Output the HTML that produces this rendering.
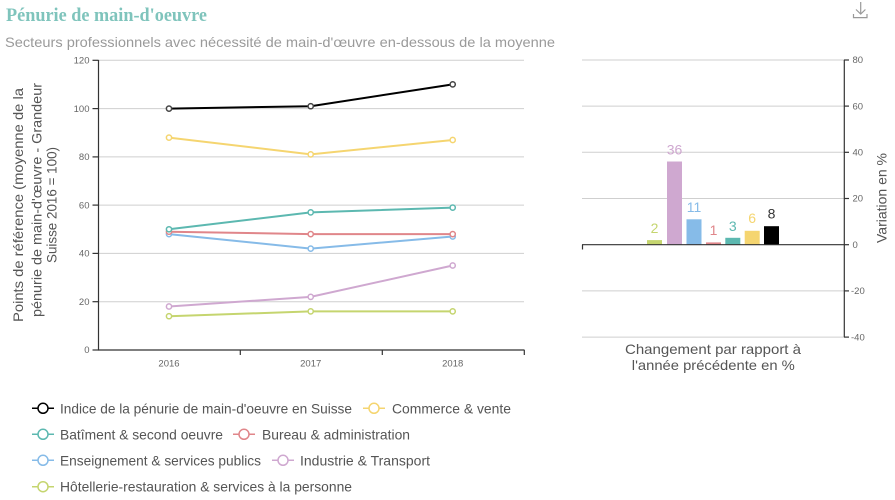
<!DOCTYPE html>
<html>
<head>
<meta charset="utf-8">
<style>
html,body{margin:0;padding:0;background:#fff;}
svg{display:block;}
text{font-family:"Liberation Sans",sans-serif;}
</style>
</head>
<body>
<svg width="895" height="500" viewBox="0 0 895 500" xmlns="http://www.w3.org/2000/svg">
<!-- Title -->
<text x="6" y="21" style="font-family:'Liberation Serif',serif;font-weight:bold;font-size:19px" fill="#7fc4bc" textLength="201" lengthAdjust="spacingAndGlyphs">Pénurie de main-d'oeuvre</text>
<text x="5" y="47" font-size="14" fill="#9a9a9a" textLength="550" lengthAdjust="spacingAndGlyphs">Secteurs professionnels avec nécessité de main-d'œuvre en-dessous de la moyenne</text>
<!-- download icon -->
<g stroke="#999" stroke-width="1.2" fill="none">
<line x1="860.7" y1="2" x2="860.7" y2="14"/>
<polyline points="856,9.5 860.7,14 865.4,9.5"/>
<polyline points="853.5,14 853.5,17.6 867,17.6 867,14"/>
</g>

<!-- LEFT CHART -->
<g stroke="#cfcfcf" stroke-width="1">
<line x1="98" y1="60.3" x2="524" y2="60.3"/>
<line x1="98" y1="108.6" x2="524" y2="108.6"/>
<line x1="98" y1="156.9" x2="524" y2="156.9"/>
<line x1="98" y1="205.1" x2="524" y2="205.1"/>
<line x1="98" y1="253.4" x2="524" y2="253.4"/>
<line x1="98" y1="301.7" x2="524" y2="301.7"/>
</g>
<g stroke="#333" stroke-width="1.2">
<line x1="98.5" y1="60" x2="98.5" y2="350"/>
<line x1="98" y1="350" x2="524.5" y2="350"/>
<line x1="92.5" y1="60.3" x2="98.5" y2="60.3"/>
<line x1="92.5" y1="108.6" x2="98.5" y2="108.6"/>
<line x1="92.5" y1="156.9" x2="98.5" y2="156.9"/>
<line x1="92.5" y1="205.1" x2="98.5" y2="205.1"/>
<line x1="92.5" y1="253.4" x2="98.5" y2="253.4"/>
<line x1="92.5" y1="301.7" x2="98.5" y2="301.7"/>
<line x1="92.5" y1="350" x2="98.5" y2="350"/>
<line x1="240.3" y1="350" x2="240.3" y2="355"/>
<line x1="382.3" y1="350" x2="382.3" y2="355"/>
<line x1="524.3" y1="350" x2="524.3" y2="355"/>
</g>
<g font-size="9.5" fill="#666" text-anchor="end">
<text x="89.5" y="63.5">120</text>
<text x="89.5" y="111.8">100</text>
<text x="89.5" y="160.1">80</text>
<text x="89.5" y="208.3">60</text>
<text x="89.5" y="256.6">40</text>
<text x="89.5" y="304.9">20</text>
<text x="89.5" y="353.2">0</text>
</g>
<g font-size="9.5" fill="#666" text-anchor="middle">
<text x="169" y="366.5">2016</text>
<text x="310.7" y="366.5">2017</text>
<text x="452.7" y="366.5">2018</text>
</g>
<g font-size="14" fill="#555" text-anchor="middle">
<text transform="translate(23,205) rotate(-90)" textLength="234" lengthAdjust="spacingAndGlyphs">Points de référence (moyenne de la</text>
<text transform="translate(41.5,200) rotate(-90)" textLength="234" lengthAdjust="spacingAndGlyphs">pénurie de main-d'œuvre - Grandeur</text>
<text transform="translate(56.5,205) rotate(-90)" textLength="116" lengthAdjust="spacingAndGlyphs">Suisse 2016 = 100)</text>
</g>

<!-- series lines -->
<g fill="none" stroke-width="2">
<polyline stroke="#c5d56f" points="169,316.2 310.7,311.4 452.7,311.4"/>
<polyline stroke="#cfa8d0" points="169,306.5 310.7,296.9 452.7,265.5"/>
<polyline stroke="#86bbe8" points="169,234.1 310.7,248.6 452.7,236.5"/>
<polyline stroke="#e0868a" points="169,231.7 310.7,234.1 452.7,234.1"/>
<polyline stroke="#5cb8b0" points="169,229.3 310.7,212.4 452.7,207.6"/>
<polyline stroke="#f5d570" points="169,137.6 310.7,154.4 452.7,140.0"/>
<polyline stroke="#000" points="169,108.6 310.7,106.2 452.7,84.4"/>
</g>
<g fill="#fff" stroke-width="1.5">
<g stroke="#c5d56f"><circle cx="169" cy="316.2" r="2.6"/><circle cx="310.7" cy="311.4" r="2.6"/><circle cx="452.7" cy="311.4" r="2.6"/></g>
<g stroke="#cfa8d0"><circle cx="169" cy="306.5" r="2.6"/><circle cx="310.7" cy="296.9" r="2.6"/><circle cx="452.7" cy="265.5" r="2.6"/></g>
<g stroke="#86bbe8"><circle cx="169" cy="234.1" r="2.6"/><circle cx="310.7" cy="248.6" r="2.6"/><circle cx="452.7" cy="236.5" r="2.6"/></g>
<g stroke="#e0868a"><circle cx="169" cy="231.7" r="2.6"/><circle cx="310.7" cy="234.1" r="2.6"/><circle cx="452.7" cy="234.1" r="2.6"/></g>
<g stroke="#5cb8b0"><circle cx="169" cy="229.3" r="2.6"/><circle cx="310.7" cy="212.4" r="2.6"/><circle cx="452.7" cy="207.6" r="2.6"/></g>
<g stroke="#f5d570"><circle cx="169" cy="137.6" r="2.6"/><circle cx="310.7" cy="154.4" r="2.6"/><circle cx="452.7" cy="140.0" r="2.6"/></g>
<g stroke="#444"><circle cx="169" cy="108.6" r="2.6"/><circle cx="310.7" cy="106.2" r="2.6"/><circle cx="452.7" cy="84.4" r="2.6"/></g>
</g>

<!-- RIGHT CHART -->
<g stroke="#cfcfcf" stroke-width="1">
<line x1="582" y1="60" x2="844" y2="60"/>
<line x1="582" y1="106.1" x2="844" y2="106.1"/>
<line x1="582" y1="152.3" x2="844" y2="152.3"/>
<line x1="582" y1="198.5" x2="844" y2="198.5"/>
<line x1="582" y1="290.9" x2="844" y2="290.9"/>
<line x1="582" y1="337.1" x2="844" y2="337.1"/>
</g>
<g>
<rect x="647" y="240.1" width="15" height="4.6" fill="#c5d56f"/>
<rect x="667" y="161.5" width="15" height="83.2" fill="#cfa8d0"/>
<rect x="686.5" y="219.3" width="15" height="25.4" fill="#86bbe8"/>
<rect x="706" y="242.4" width="15" height="2.3" fill="#e0868a"/>
<rect x="725.3" y="237.8" width="15" height="6.9" fill="#5cb8b0"/>
<rect x="744.7" y="230.8" width="15" height="13.9" fill="#f5d570"/>
<rect x="764" y="226.2" width="15" height="18.5" fill="#000"/>
</g>
<g font-size="14" text-anchor="middle">
<text x="654.5" y="233" fill="#c5d56f">2</text>
<text x="674.5" y="154.5" fill="#cfa8d0">36</text>
<text x="694" y="212" fill="#86bbe8">11</text>
<text x="713.5" y="235" fill="#e0868a">1</text>
<text x="732.8" y="231" fill="#5cb8b0">3</text>
<text x="752.2" y="223" fill="#f5d570">6</text>
<text x="771.5" y="218.5" fill="#333">8</text>
</g>
<g stroke="#333" stroke-width="1.2">
<line x1="582" y1="244.7" x2="844" y2="244.7"/>
<line x1="582.5" y1="244.7" x2="582.5" y2="249.5"/>
<line x1="844.3" y1="60" x2="844.3" y2="337.1"/>
<line x1="844" y1="60" x2="849" y2="60"/>
<line x1="844" y1="106.1" x2="849" y2="106.1"/>
<line x1="844" y1="152.3" x2="849" y2="152.3"/>
<line x1="844" y1="198.5" x2="849" y2="198.5"/>
<line x1="844" y1="244.7" x2="849" y2="244.7"/>
<line x1="844" y1="290.9" x2="849" y2="290.9"/>
<line x1="844" y1="337.1" x2="849" y2="337.1"/>
</g>
<g font-size="9.5" fill="#666">
<text x="852.5" y="63.2">80</text>
<text x="852.5" y="109.3">60</text>
<text x="852.5" y="155.5">40</text>
<text x="852.5" y="201.7">20</text>
<text x="852.5" y="247.9">0</text>
<text x="851" y="294.1">-20</text>
<text x="851" y="340.3">-40</text>
</g>
<text transform="translate(886.5,198) rotate(-90)" font-size="14" fill="#555" text-anchor="middle" textLength="90" lengthAdjust="spacingAndGlyphs">Variation en %</text>
<g font-size="14" fill="#555" text-anchor="middle">
<text x="713" y="354" textLength="176" lengthAdjust="spacingAndGlyphs">Changement par rapport à</text>
<text x="713.3" y="370" textLength="163" lengthAdjust="spacingAndGlyphs">l'année précédente en %</text>
</g>

<!-- LEGEND -->
<g stroke-width="1.5" fill="#fff">
<g stroke="#000"><line x1="32" y1="408.3" x2="54" y2="408.3"/><circle cx="43" cy="408.3" r="5"/></g>
<g stroke="#f5d570"><line x1="363" y1="408.3" x2="385" y2="408.3"/><circle cx="374" cy="408.3" r="5"/></g>
<g stroke="#5cb8b0"><line x1="32" y1="434.3" x2="54" y2="434.3"/><circle cx="43" cy="434.3" r="5"/></g>
<g stroke="#e0868a"><line x1="233" y1="434.3" x2="255" y2="434.3"/><circle cx="244" cy="434.3" r="5"/></g>
<g stroke="#86bbe8"><line x1="32" y1="460.3" x2="54" y2="460.3"/><circle cx="43" cy="460.3" r="5"/></g>
<g stroke="#cfa8d0"><line x1="272" y1="460.3" x2="294" y2="460.3"/><circle cx="283" cy="460.3" r="5"/></g>
<g stroke="#c5d56f"><line x1="32" y1="486.7" x2="54" y2="486.7"/><circle cx="43" cy="486.7" r="5"/></g>
</g>
<g font-size="14" fill="#555">
<text x="60" y="413.3" textLength="292" lengthAdjust="spacingAndGlyphs">Indice de la pénurie de main-d'oeuvre en Suisse</text>
<text x="392" y="413.3" textLength="119" lengthAdjust="spacingAndGlyphs">Commerce &amp; vente</text>
<text x="60" y="439.3" textLength="163" lengthAdjust="spacingAndGlyphs">Batîment &amp; second oeuvre</text>
<text x="262" y="439.3" textLength="148" lengthAdjust="spacingAndGlyphs">Bureau &amp; administration</text>
<text x="60" y="465.3" textLength="201" lengthAdjust="spacingAndGlyphs">Enseignement &amp; services publics</text>
<text x="300" y="465.3" textLength="130" lengthAdjust="spacingAndGlyphs">Industrie &amp; Transport</text>
<text x="60" y="491.7" textLength="292" lengthAdjust="spacingAndGlyphs">Hôtellerie-restauration &amp; services à la personne</text>
</g>
</svg>
</body>
</html>
